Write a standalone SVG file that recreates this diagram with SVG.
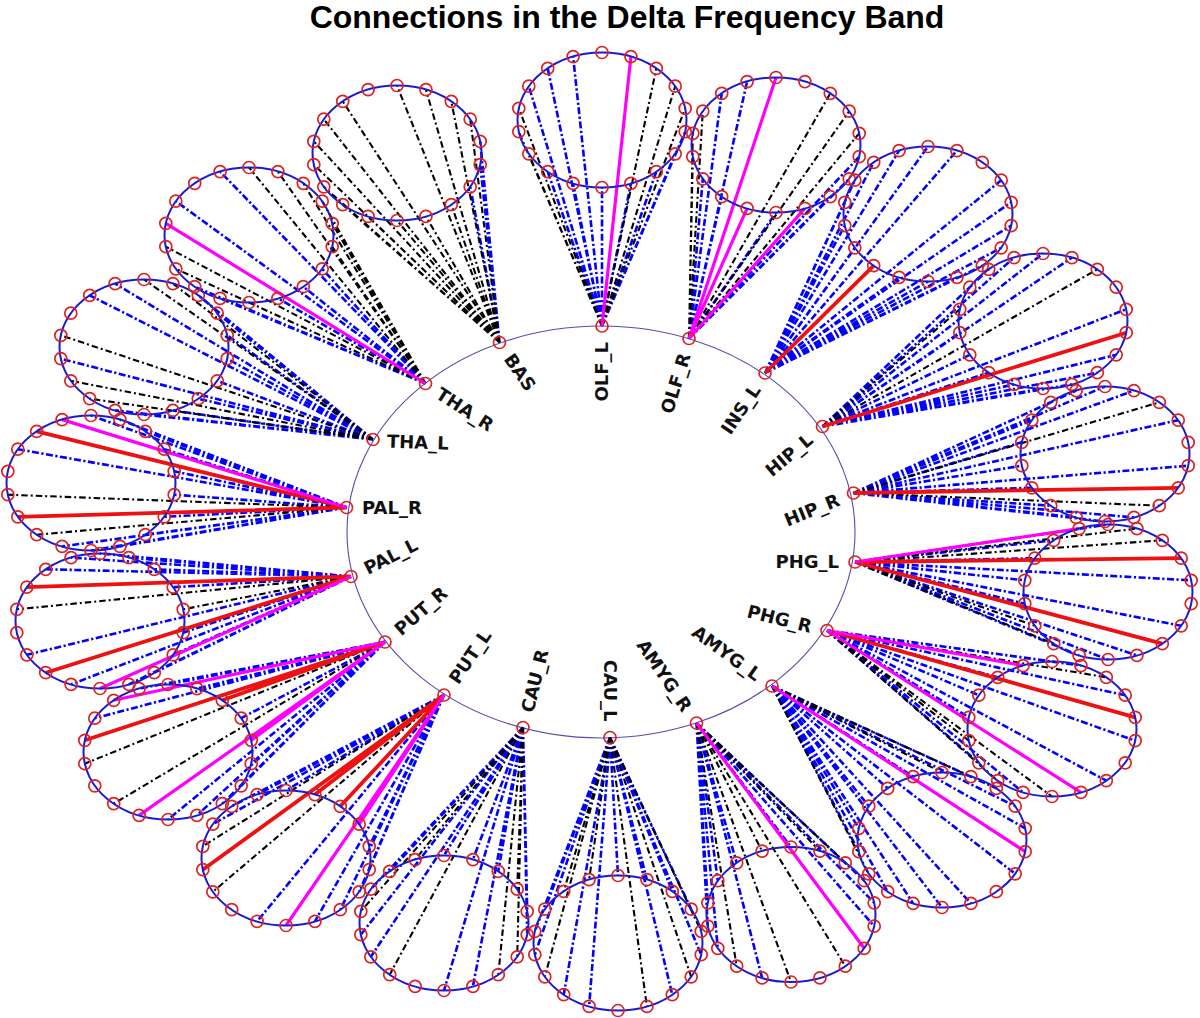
<svg xmlns="http://www.w3.org/2000/svg" xmlns:xlink="http://www.w3.org/1999/xlink" width="1200" height="1018" viewBox="0 0 1200 1018">
<style>
.b{fill:none;stroke:#0000ff;stroke-width:2.6;stroke-dasharray:7 2.5 2.2 2.5}
.k{fill:none;stroke:#000;stroke-width:2.1;stroke-dasharray:6.5 3 2 3}
.r{fill:none;stroke:#ee1111;stroke-width:3.8}
.m{fill:none;stroke:#ff00ff;stroke-width:3.2}
.nd{fill:none;stroke:#dd2222;stroke-width:1.7}
.lbl{font-family:"DejaVu Sans",Verdana,sans-serif;font-weight:bold;font-size:18px;fill:#111}
</style>
<defs>
<g id="petal" fill="none">
<ellipse rx="84.5" ry="67.5" stroke="#1a1ad0" stroke-width="2"/>
<g stroke="#dd2222" stroke-width="1.7">
<circle cx="0" cy="-67.5" r="6"/><circle cx="28.9" cy="-63.4" r="6"/><circle cx="54.3" cy="-51.7" r="6"/><circle cx="73.2" cy="-33.8" r="6"/><circle cx="83.2" cy="-11.7" r="6"/><circle cx="83.2" cy="11.7" r="6"/><circle cx="73.2" cy="33.8" r="6"/><circle cx="54.3" cy="51.7" r="6"/><circle cx="28.9" cy="63.4" r="6"/><circle cx="0" cy="67.5" r="6"/><circle cx="-28.9" cy="63.4" r="6"/><circle cx="-54.3" cy="51.7" r="6"/><circle cx="-73.2" cy="33.8" r="6"/><circle cx="-83.2" cy="11.7" r="6"/><circle cx="-83.2" cy="-11.7" r="6"/><circle cx="-73.2" cy="-33.8" r="6"/><circle cx="-54.3" cy="-51.7" r="6"/><circle cx="-28.9" cy="-63.4" r="6"/>
</g>
</g>
</defs>
<rect width="1200" height="1018" fill="#fff"/>
<text x="627" y="28" text-anchor="middle" font-family="Liberation Sans, Arial, sans-serif" font-weight="bold" font-size="32">Connections in the Delta Frequency Band</text>
<ellipse cx="601" cy="532" rx="254" ry="206" fill="none" stroke="#5050b0" stroke-width="1.1"/>
<g id="connectors">
<g id="blue-lines">
<path class="b" transform="translate(602 120)" d="M0 206L83.2 11.7M0 206L73.2 33.8M0 206L54.3 51.7M0 206L28.9 63.4M0 206L0 67.5M0 206L-28.9 63.4M0 206L-54.3 51.7M0 206L-73.2 -33.8M0 206L-54.3 -51.7M0 206L-28.9 -63.4"/>
<path class="b" transform="translate(776 145)" d="M-87 193.5L83.2 11.7M-87 193.5L73.2 33.8M-87 193.5L54.3 51.7M-87 193.5L0 67.5M-87 193.5L-54.3 51.7M-87 193.5L-73.2 33.8M-87 193.5L-54.3 -51.7M-87 193.5L-28.9 -63.4"/>
<path class="b" transform="translate(928 214)" d="M-163 159L0 -67.5M-163 159L28.9 -63.4M-163 159L73.2 -33.8M-163 159L83.2 -11.7M-163 159L83.2 11.7M-163 159L73.2 33.8M-163 159L54.3 51.7M-163 159L28.9 63.4M-163 159L0 67.5M-163 159L-28.9 63.4M-163 159L-73.2 33.8M-163 159L-83.2 11.7M-163 159L-83.2 -11.7M-163 159L-73.2 -33.8M-163 159L-54.3 -51.7M-163 159L-28.9 -63.4"/>
<path class="b" transform="translate(1043 321)" d="M-220.5 105.5L0 -67.5M-220.5 105.5L28.9 -63.4M-220.5 105.5L83.2 -11.7M-220.5 105.5L73.2 33.8M-220.5 105.5L54.3 51.7M-220.5 105.5L28.9 63.4M-220.5 105.5L0 67.5M-220.5 105.5L-28.9 63.4M-220.5 105.5L-54.3 51.7M-220.5 105.5L-73.2 33.8M-220.5 105.5L-83.2 11.7M-220.5 105.5L-73.2 -33.8M-220.5 105.5L-54.3 -51.7M-220.5 105.5L-28.9 -63.4"/>
<path class="b" transform="translate(1105 454)" d="M-251.5 39L0 -67.5M-251.5 39L28.9 -63.4M-251.5 39L73.2 -33.8M-251.5 39L83.2 11.7M-251.5 39L28.9 63.4M-251.5 39L0 67.5M-251.5 39L-28.9 63.4M-251.5 39L-54.3 51.7M-251.5 39L-73.2 33.8M-251.5 39L-83.2 11.7M-251.5 39L-83.2 -11.7M-251.5 39L-73.2 -33.8M-251.5 39L-54.3 -51.7M-251.5 39L-28.9 -63.4"/>
<path class="b" transform="translate(1108 592)" d="M-253 -30L0 -67.5M-253 -30L83.2 -11.7M-253 -30L73.2 33.8M-253 -30L28.9 63.4M-253 -30L0 67.5M-253 -30L-28.9 63.4M-253 -30L-83.2 11.7M-253 -30L-83.2 -11.7M-253 -30L-73.2 -33.8M-253 -30L-54.3 -51.7"/>
<path class="b" transform="translate(1052 729)" d="M-225 -98.5L0 -67.5M-225 -98.5L28.9 -63.4M-225 -98.5L73.2 -33.8M-225 -98.5L83.2 11.7M-225 -98.5L54.3 51.7M-225 -98.5L-28.9 63.4M-225 -98.5L-73.2 33.8M-225 -98.5L-83.2 -11.7M-225 -98.5L-73.2 -33.8M-225 -98.5L-54.3 -51.7"/>
<path class="b" transform="translate(942 840)" d="M-170 -154L54.3 -51.7M-170 -154L73.2 -33.8M-170 -154L83.2 -11.7M-170 -154L73.2 33.8M-170 -154L28.9 63.4M-170 -154L0 67.5M-170 -154L-28.9 63.4M-170 -154L-54.3 51.7M-170 -154L-83.2 11.7M-170 -154L-83.2 -11.7M-170 -154L-73.2 -33.8M-170 -154L-54.3 -51.7M-170 -154L-28.9 -63.4"/>
<path class="b" transform="translate(791 914.5)" d="M-94.5 -191.5L0 -67.5M-94.5 -191.5L73.2 -33.8M-94.5 -191.5L83.2 -11.7M-94.5 -191.5L83.2 11.7M-94.5 -191.5L-28.9 63.4M-94.5 -191.5L-73.2 33.8M-94.5 -191.5L-83.2 11.7M-94.5 -191.5L-83.2 -11.7M-94.5 -191.5L-73.2 -33.8M-94.5 -191.5L-54.3 -51.7"/>
<path class="b" transform="translate(618 943)" d="M-8 -205.5L0 -67.5M-8 -205.5L28.9 -63.4M-8 -205.5L54.3 -51.7M-8 -205.5L73.2 -33.8M-8 -205.5L83.2 11.7M-8 -205.5L54.3 51.7M-8 -205.5L-28.9 63.4M-8 -205.5L-54.3 51.7M-8 -205.5L-83.2 11.7M-8 -205.5L-83.2 -11.7M-8 -205.5L-73.2 -33.8"/>
<path class="b" transform="translate(444 923)" d="M79 -195.5L0 -67.5M79 -195.5L28.9 -63.4M79 -195.5L54.3 -51.7M79 -195.5L83.2 -11.7M79 -195.5L83.2 11.7M79 -195.5L28.9 63.4M79 -195.5L0 67.5M79 -195.5L-73.2 33.8M79 -195.5L-83.2 11.7M79 -195.5L-73.2 -33.8M79 -195.5L-54.3 -51.7"/>
<path class="b" transform="translate(286 858)" d="M158 -163L0 -67.5M158 -163L83.2 -11.7M158 -163L83.2 11.7M158 -163L73.2 33.8M158 -163L54.3 51.7M158 -163L28.9 63.4M158 -163L-28.9 63.4M158 -163L-73.2 -33.8M158 -163L-54.3 -51.7M158 -163L-28.9 -63.4"/>
<path class="b" transform="translate(168 752)" d="M217 -110L0 -67.5M217 -110L28.9 -63.4M217 -110L73.2 -33.8M217 -110L83.2 11.7M217 -110L73.2 33.8M217 -110L54.3 51.7M217 -110L28.9 63.4M217 -110L0 67.5M217 -110L-73.2 -33.8M217 -110L-28.9 -63.4"/>
<path class="b" transform="translate(100 621)" d="M251 -44.5L0 -67.5M251 -44.5L28.9 -63.4M251 -44.5L54.3 -51.7M251 -44.5L73.2 -33.8M251 -44.5L83.2 11.7M251 -44.5L73.2 33.8M251 -44.5L54.3 51.7M251 -44.5L28.9 63.4M251 -44.5L-28.9 63.4M251 -44.5L-73.2 33.8M251 -44.5L-54.3 -51.7M251 -44.5L-28.9 -63.4"/>
<path class="b" transform="translate(91 483)" d="M255.5 24.5L0 -67.5M255.5 24.5L28.9 -63.4M255.5 24.5L54.3 -51.7M255.5 24.5L73.2 -33.8M255.5 24.5L83.2 -11.7M255.5 24.5L83.2 11.7M255.5 24.5L73.2 33.8M255.5 24.5L54.3 51.7M255.5 24.5L28.9 63.4M255.5 24.5L0 67.5M255.5 24.5L-28.9 63.4M255.5 24.5L-73.2 -33.8"/>
<path class="b" transform="translate(144 347)" d="M229 92.5L54.3 -51.7M229 92.5L73.2 -33.8M229 92.5L83.2 -11.7M229 92.5L83.2 11.7M229 92.5L73.2 33.8M229 92.5L54.3 51.7M229 92.5L28.9 63.4M229 92.5L0 67.5M229 92.5L-28.9 63.4M229 92.5L-83.2 11.7M229 92.5L-54.3 -51.7M229 92.5L-28.9 -63.4"/>
<path class="b" transform="translate(249 235)" d="M176.5 148.5L73.2 33.8M176.5 148.5L54.3 51.7M176.5 148.5L28.9 63.4M176.5 148.5L-28.9 63.4M176.5 148.5L-54.3 51.7M176.5 148.5L-73.2 -33.8M176.5 148.5L-28.9 -63.4"/>
<path class="b" transform="translate(397 153)" d="M102.5 189.5L83.2 -11.7M102.5 189.5L83.2 11.7M102.5 189.5L73.2 33.8"/>
</g>
<g id="black-lines">
<path class="k" transform="translate(602 120)" d="M0 206L54.3 -51.7M0 206L73.2 -33.8M0 206L83.2 -11.7M0 206L-73.2 33.8M0 206L-83.2 11.7M0 206L-83.2 -11.7"/>
<path class="k" transform="translate(776 145)" d="M-87 193.5L54.3 -51.7M-87 193.5L73.2 -33.8M-87 193.5L83.2 -11.7M-87 193.5L-83.2 11.7M-87 193.5L-83.2 -11.7M-87 193.5L-73.2 -33.8"/>
<path class="k" transform="translate(1043 321)" d="M-220.5 105.5L54.3 -51.7M-220.5 105.5L-83.2 -11.7"/>
<path class="k" transform="translate(1105 454)" d="M-251.5 39L54.3 -51.7M-251.5 39L54.3 51.7"/>
<path class="k" transform="translate(1108 592)" d="M-253 -30L28.9 -63.4M-253 -30L54.3 -51.7M-253 -30L-54.3 51.7M-253 -30L-73.2 33.8"/>
<path class="k" transform="translate(1052 729)" d="M-225 -98.5L54.3 -51.7M-225 -98.5L0 67.5M-225 -98.5L-54.3 51.7M-225 -98.5L-83.2 11.7"/>
<path class="k" transform="translate(942 840)" d="M-170 -154L0 -67.5M-170 -154L28.9 -63.4M-170 -154L-73.2 33.8"/>
<path class="k" transform="translate(791 914.5)" d="M-94.5 -191.5L28.9 -63.4M-94.5 -191.5L54.3 -51.7M-94.5 -191.5L54.3 51.7M-94.5 -191.5L0 67.5M-94.5 -191.5L-54.3 51.7M-94.5 -191.5L-28.9 -63.4"/>
<path class="k" transform="translate(618 943)" d="M-8 -205.5L83.2 -11.7M-8 -205.5L73.2 33.8M-8 -205.5L28.9 63.4M-8 -205.5L-73.2 33.8M-8 -205.5L-54.3 -51.7M-8 -205.5L-28.9 -63.4"/>
<path class="k" transform="translate(444 923)" d="M79 -195.5L73.2 -33.8M79 -195.5L73.2 33.8M79 -195.5L54.3 51.7M79 -195.5L-54.3 51.7M79 -195.5L-83.2 -11.7M79 -195.5L-28.9 -63.4"/>
<path class="k" transform="translate(286 858)" d="M158 -163L-73.2 33.8M158 -163L-83.2 -11.7"/>
<path class="k" transform="translate(168 752)" d="M217 -110L-54.3 51.7M217 -110L-83.2 11.7"/>
<path class="k" transform="translate(100 621)" d="M251 -44.5L83.2 -11.7M251 -44.5L-83.2 -11.7"/>
<path class="k" transform="translate(91 483)" d="M255.5 24.5L-54.3 51.7M255.5 24.5L-83.2 11.7"/>
<path class="k" transform="translate(144 347)" d="M229 92.5L0 -67.5M229 92.5L28.9 -63.4M229 92.5L-54.3 51.7M229 92.5L-73.2 33.8M229 92.5L-83.2 -11.7"/>
<path class="k" transform="translate(249 235)" d="M176.5 148.5L0 -67.5M176.5 148.5L28.9 -63.4M176.5 148.5L54.3 -51.7M176.5 148.5L73.2 -33.8M176.5 148.5L83.2 -11.7M176.5 148.5L83.2 11.7M176.5 148.5L0 67.5M176.5 148.5L-73.2 33.8M176.5 148.5L-83.2 11.7"/>
<path class="k" transform="translate(397 153)" d="M102.5 189.5L0 -67.5M102.5 189.5L28.9 -63.4M102.5 189.5L54.3 -51.7M102.5 189.5L73.2 -33.8M102.5 189.5L54.3 51.7M102.5 189.5L28.9 63.4M102.5 189.5L0 67.5M102.5 189.5L-28.9 63.4M102.5 189.5L-54.3 51.7M102.5 189.5L-73.2 33.8M102.5 189.5L-83.2 11.7M102.5 189.5L-83.2 -11.7M102.5 189.5L-73.2 -33.8M102.5 189.5L-54.3 -51.7"/>
</g>
<g id="red-lines">
<path class="r" transform="translate(928 214)" d="M-163 159L-54.3 51.7"/>
<path class="r" transform="translate(1043 321)" d="M-220.5 105.5L83.2 11.7"/>
<path class="r" transform="translate(1105 454)" d="M-251.5 39L73.2 33.8"/>
<path class="r" transform="translate(1108 592)" d="M-253 -30L73.2 -33.8M-253 -30L54.3 51.7"/>
<path class="r" transform="translate(1052 729)" d="M-225 -98.5L83.2 -11.7"/>
<path class="r" transform="translate(286 858)" d="M158 -163L28.9 -63.4M158 -163L54.3 -51.7M158 -163L-83.2 11.7"/>
<path class="r" transform="translate(168 752)" d="M217 -110L54.3 -51.7M217 -110L-83.2 -11.7"/>
<path class="r" transform="translate(100 621)" d="M251 -44.5L-54.3 51.7M251 -44.5L-73.2 -33.8"/>
<path class="r" transform="translate(91 483)" d="M255.5 24.5L-73.2 33.8M255.5 24.5L-54.3 -51.7"/>
</g>
<g id="magenta-lines">
<path class="m" transform="translate(602 120)" d="M0 206L28.9 -63.4"/>
<path class="m" transform="translate(776 145)" d="M-87 193.5L0 -67.5M-87 193.5L28.9 63.4M-87 193.5L-28.9 63.4"/>
<path class="m" transform="translate(1108 592)" d="M-253 -30L-28.9 -63.4"/>
<path class="m" transform="translate(1052 729)" d="M-225 -98.5L28.9 63.4M-225 -98.5L-28.9 -63.4"/>
<path class="m" transform="translate(942 840)" d="M-170 -154L83.2 11.7"/>
<path class="m" transform="translate(791 914.5)" d="M-94.5 -191.5L73.2 33.8"/>
<path class="m" transform="translate(286 858)" d="M158 -163L73.2 -33.8M158 -163L0 67.5"/>
<path class="m" transform="translate(168 752)" d="M217 -110L83.2 -11.7M217 -110L-28.9 63.4M217 -110L-54.3 -51.7"/>
<path class="m" transform="translate(100 621)" d="M251 -44.5L0 67.5"/>
<path class="m" transform="translate(91 483)" d="M255.5 24.5L-28.9 -63.4"/>
<path class="m" transform="translate(249 235)" d="M176.5 148.5L-83.2 -11.7"/>
</g>
</g>
<g id="node-OLF_L"><use href="#petal" x="602" y="120"/><circle class="nd" cx="602" cy="326" r="6"/><text class="lbl" text-anchor="end" dy="0.36em" transform="translate(602 342) rotate(-90)">OLF_L</text></g>
<g id="node-OLF_R"><use href="#petal" x="776" y="145"/><circle class="nd" cx="689" cy="338.5" r="6"/><text class="lbl" text-anchor="end" dy="0.36em" transform="translate(684.5 353.5) rotate(-73)">OLF_R</text></g>
<g id="node-INS_L"><use href="#petal" x="928" y="214"/><circle class="nd" cx="765" cy="373" r="6"/><text class="lbl" text-anchor="end" dy="0.36em" transform="translate(756 386.3) rotate(-56)">INS_L</text></g>
<g id="node-HIP_L"><use href="#petal" x="1043" y="321"/><circle class="nd" cx="822.5" cy="426.5" r="6"/><text class="lbl" text-anchor="end" dy="0.36em" transform="translate(810.2 436.8) rotate(-40)">HIP_L</text></g>
<g id="node-HIP_R"><use href="#petal" x="1105" y="454"/><circle class="nd" cx="853.5" cy="493" r="6"/><text class="lbl" text-anchor="end" dy="0.36em" transform="translate(838.7 499) rotate(-22)">HIP_R</text></g>
<g id="node-PHG_L"><use href="#petal" x="1108" y="592"/><circle class="nd" cx="855" cy="562" r="6"/><text class="lbl" text-anchor="end" dy="0.36em" transform="translate(839 562) rotate(0)">PHG_L</text></g>
<g id="node-PHG_R"><use href="#petal" x="1052" y="729"/><circle class="nd" cx="827" cy="630.5" r="6"/><text class="lbl" text-anchor="end" dy="0.36em" transform="translate(811.5 626.6) rotate(14)">PHG_R</text></g>
<g id="node-AMYG_L"><use href="#petal" x="942" y="840"/><circle class="nd" cx="772" cy="686" r="6"/><text class="lbl" text-anchor="end" dy="0.36em" transform="translate(759.1 676.6) rotate(36)">AMYG_L</text></g>
<g id="node-AMYG_R"><use href="#petal" x="791" y="914.5"/><circle class="nd" cx="696.5" cy="723" r="6"/><text class="lbl" text-anchor="end" dy="0.36em" transform="translate(687.6 709.7) rotate(56)">AMYG_R</text></g>
<g id="node-CAU_L"><use href="#petal" x="618" y="943"/><circle class="nd" cx="610" cy="737.5" r="6"/><text class="lbl" text-anchor="end" dy="0.36em" transform="translate(610 721.5) rotate(90)">CAU_L</text></g>
<g id="node-CAU_R"><use href="#petal" x="444" y="923"/><circle class="nd" cx="523" cy="727.5" r="6"/><text class="lbl" text-anchor="start" dy="0.36em" transform="translate(526.9 712) rotate(-76)">CAU_R</text></g>
<g id="node-PUT_L"><use href="#petal" x="286" y="858"/><circle class="nd" cx="444" cy="695" r="6"/><text class="lbl" text-anchor="start" dy="0.36em" transform="translate(453 681.7) rotate(-56)">PUT_L</text></g>
<g id="node-PUT_R"><use href="#petal" x="168" y="752"/><circle class="nd" cx="385" cy="642" r="6"/><text class="lbl" text-anchor="start" dy="0.36em" transform="translate(397 631.5) rotate(-41)">PUT_R</text></g>
<g id="node-PAL_L"><use href="#petal" x="100" y="621"/><circle class="nd" cx="351" cy="576.5" r="6"/><text class="lbl" text-anchor="start" dy="0.36em" transform="translate(365 569.3) rotate(-27)">PAL_L</text></g>
<g id="node-PAL_R"><use href="#petal" x="91" y="483"/><circle class="nd" cx="346.5" cy="507.5" r="6"/><text class="lbl" text-anchor="start" dy="0.36em" transform="translate(362 507.5) rotate(0)">PAL_R</text></g>
<g id="node-THA_L"><use href="#petal" x="144" y="347"/><circle class="nd" cx="373" cy="439.5" r="6"/><text class="lbl" text-anchor="start" dy="0.36em" transform="translate(387 441) rotate(2)">THA_L</text></g>
<g id="node-THA_R"><use href="#petal" x="249" y="235"/><circle class="nd" cx="425.5" cy="383.5" r="6"/><text class="lbl" text-anchor="start" dy="0.36em" transform="translate(438 391.7) rotate(33)">THA_R</text></g>
<g id="node-BAS"><use href="#petal" x="397" y="153"/><circle class="nd" cx="499.5" cy="342.5" r="6"/><text class="lbl" text-anchor="start" dy="0.36em" transform="translate(508.5 355.6) rotate(55)">BAS</text></g>
</svg>
